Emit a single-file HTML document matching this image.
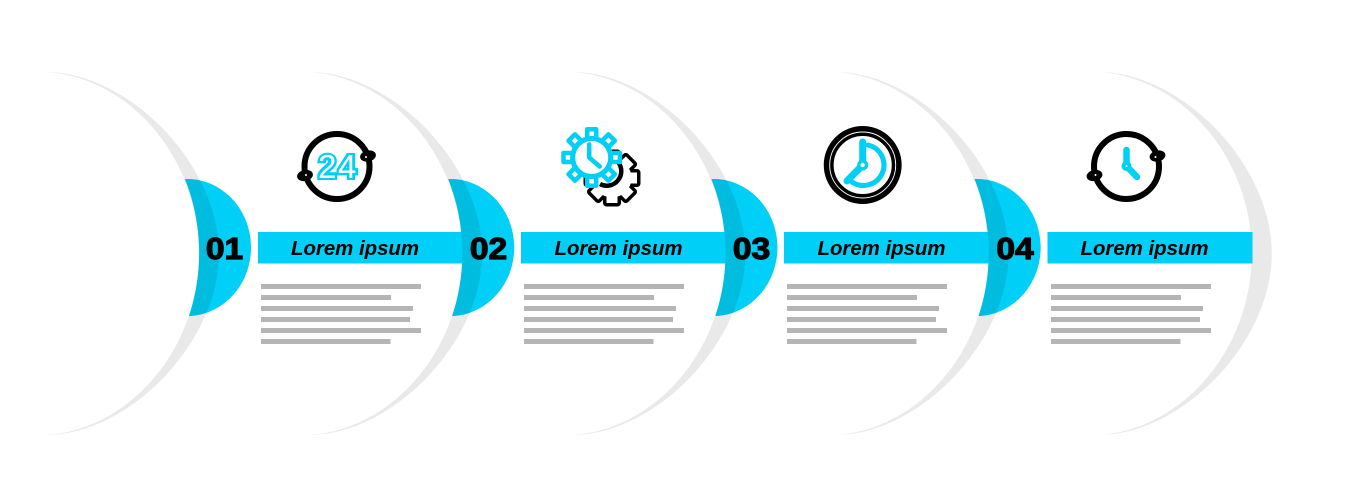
<!DOCTYPE html>
<html>
<head>
<meta charset="utf-8">
<style>
html,body{margin:0;padding:0;background:#fff;width:1351px;height:500px;overflow:hidden}
svg{display:block}
.t{font-family:"Liberation Sans",sans-serif;font-weight:bold;font-style:italic;font-size:20.4px;text-anchor:middle;fill:#000}
.n{font-family:"Liberation Sans",sans-serif;font-weight:bold;font-size:30.5px;text-anchor:middle;fill:#000;stroke:#000;stroke-width:1.2}
.f{font-family:"Liberation Sans",sans-serif;font-weight:bold;font-size:33px;letter-spacing:1.5px;text-anchor:middle;fill:#00cff7;stroke:#00cff7;stroke-width:4}
.g{font-family:"Liberation Sans",sans-serif;font-weight:normal;font-size:33px;letter-spacing:1.5px;text-anchor:middle;fill:#fff}
</style>
</head>
<body>
<svg width="1351" height="500" viewBox="0 0 1351 500" xmlns="http://www.w3.org/2000/svg">
<defs>
  <path id="outer" d="M47 72 C130 73 219 165 219 253.500 C219 342 130 434 47 435 C130 429 199 349 199 253.500 C199 158 130 78 47 72Z"/>
  <clipPath id="bc"><path d="M185 179 A64 68.500 0 0 1 189 316 A200 200 0 0 0 185 179Z"/></clipPath>
  <g id="blue">
    <path d="M185 179 A64 68.500 0 0 1 189 316 A200 200 0 0 0 185 179Z" fill="#00cff7"/>
    <path d="M47 72 C130 73 219 165 219 253.500 C219 342 130 434 47 435Z" fill="#00bde0" clip-path="url(#bc)"/>
  </g>
  <g id="lines" fill="#b5b5b5">
    <rect x="261" y="284" width="160" height="5"/>
    <rect x="261" y="295" width="130" height="5"/>
    <rect x="261" y="306" width="152" height="5"/>
    <rect x="261" y="317" width="149" height="5"/>
    <rect x="261" y="328" width="160" height="5"/>
    <rect x="261" y="339" width="129.500" height="5"/>
  </g>
  <g id="ring">
    <circle cx="337" cy="166.500" r="32.500" fill="none" stroke="#000" stroke-width="6"/>
    <ellipse cx="368" cy="156" rx="8" ry="5.500" transform="rotate(-12 368 156)" fill="#000"/>
    <ellipse cx="305" cy="175.500" rx="8" ry="5.500" transform="rotate(-12 305 175.500)" fill="#000"/>
    <circle cx="366" cy="157" r="1" fill="#fff"/>
    <circle cx="306" cy="175" r="1" fill="#fff"/>
  </g>
  <g id="bt">
    <circle r="19.500"/>
    <rect x="-5.500" y="-25" width="11" height="10"/>
    <rect x="-5.500" y="-25" width="11" height="10" transform="rotate(45)"/>
    <rect x="-5.500" y="-25" width="11" height="10" transform="rotate(90)"/>
    <rect x="-5.500" y="-25" width="11" height="10" transform="rotate(135)"/>
    <rect x="-5.500" y="-25" width="11" height="10" transform="rotate(180)"/>
    <rect x="-5.500" y="-25" width="11" height="10" transform="rotate(225)"/>
    <rect x="-5.500" y="-25" width="11" height="10" transform="rotate(270)"/>
    <rect x="-5.500" y="-25" width="11" height="10" transform="rotate(315)"/>
  </g>
</defs>

<rect width="1351" height="500" fill="#fff"/>

<g fill="#e9e9e9">
<use href="#outer"/>
<use href="#outer" x="263.200"/>
<use href="#outer" x="526.400"/>
<use href="#outer" x="789.600"/>
<use href="#outer" x="1052.800"/>
</g>

<g fill="#00cff7">
  <rect x="258" y="232" width="205" height="31.500"/>
  <rect x="521" y="232" width="205" height="31.500"/>
  <rect x="784" y="232" width="205" height="31.500"/>
  <rect x="1047.500" y="232" width="205" height="31.500"/>
</g>

<use href="#blue"/>
<use href="#blue" x="263.200"/>
<use href="#blue" x="526.400"/>
<use href="#blue" x="789.600"/>

<text class="n" transform="translate(224.500 259) scale(1.1 1)">01</text>
<text class="n" transform="translate(488.500 259) scale(1.1 1)">02</text>
<text class="n" transform="translate(751.500 259) scale(1.1 1)">03</text>
<text class="n" transform="translate(1015 259) scale(1.1 1)">04</text>

<text class="t" x="355" y="255">Lorem ipsum</text>
<text class="t" x="618.500" y="255">Lorem ipsum</text>
<text class="t" x="881.500" y="255">Lorem ipsum</text>
<text class="t" x="1144.500" y="255">Lorem ipsum</text>

<use href="#lines"/>
<use href="#lines" x="263"/>
<use href="#lines" x="526"/>
<use href="#lines" x="790"/>

<!-- icon 1 -->
<use href="#ring"/>
<text class="f" x="338" y="178">24</text>
<text class="g" x="338" y="178">24</text>

<!-- icon 2: black gear -->
<g transform="translate(612 178)">
  <use href="#bt" fill="none" stroke="#000" stroke-width="7" stroke-linejoin="round"/>
  <use href="#bt" fill="#fff"/>
</g>
<path d="M600 184 A14.500 14.500 0 0 0 618 162" fill="none" stroke="#000" stroke-width="4.500"/>
<!-- icon 2: blue gear -->
<g transform="translate(591.700 157.500)">
  <g fill="#fff" stroke="#00cff7" stroke-width="4.500" stroke-linejoin="round">
    <rect x="-4.500" y="-28.200" width="9" height="9"/>
    <rect x="-4.500" y="-28.200" width="9" height="9" transform="rotate(45)"/>
    <rect x="-4.500" y="-28.200" width="9" height="9" transform="rotate(90)"/>
    <rect x="-4.500" y="-28.200" width="9" height="9" transform="rotate(135)"/>
    <rect x="-4.500" y="-28.200" width="9" height="9" transform="rotate(180)"/>
    <rect x="-4.500" y="-28.200" width="9" height="9" transform="rotate(225)"/>
    <rect x="-4.500" y="-28.200" width="9" height="9" transform="rotate(270)"/>
    <rect x="-4.500" y="-28.200" width="9" height="9" transform="rotate(315)"/>
  </g>
  <circle r="19" fill="#fff" stroke="#00cff7" stroke-width="5"/>
  <path d="M-2.500 -13 L-2.500 0 L8 9" fill="none" stroke="#00cff7" stroke-width="4.500" stroke-linecap="round" stroke-linejoin="round"/>
</g>

<!-- icon 3 -->
<circle cx="862.700" cy="165" r="36.200" fill="none" stroke="#000" stroke-width="5.500"/>
<circle cx="862.700" cy="165" r="30.800" fill="none" stroke="#000" stroke-width="3.500"/>
<path d="M868 145 A20.500 20.500 0 1 1 852 182" fill="none" stroke="#00cff7" stroke-width="5" stroke-linecap="round"/>
<path d="M862.700 142 V165 L847 181" fill="none" stroke="#00cff7" stroke-width="7" stroke-linecap="round" stroke-linejoin="round"/>
<circle cx="862.700" cy="165" r="5.500" fill="#00cff7"/>
<circle cx="862.700" cy="165" r="2.200" fill="#fff"/>

<!-- icon 4 -->
<use href="#ring" x="789.500"/>
<path d="M1126.500 150 V166 L1137 177" fill="none" stroke="#00cff7" stroke-width="6.500" stroke-linecap="round" stroke-linejoin="round"/>
<circle cx="1126.500" cy="166" r="5" fill="#00cff7"/>
<circle cx="1126.500" cy="166" r="1" fill="#fff"/>
</svg>
</body>
</html>
